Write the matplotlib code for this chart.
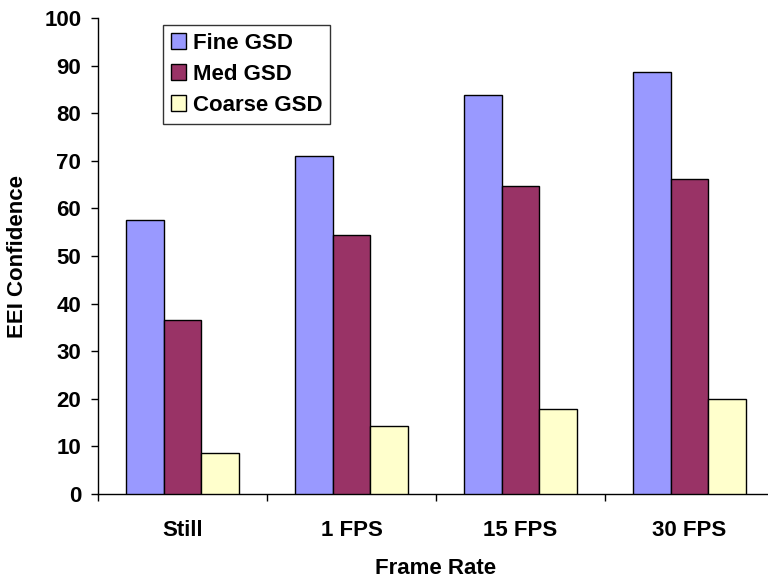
import matplotlib
matplotlib.use("Agg")
import matplotlib.pyplot as plt
from matplotlib.patches import Patch
import numpy as np

categories = ["Still", "1 FPS", "15 FPS", "30 FPS"]
series_names = ["Fine GSD", "Med GSD", "Coarse GSD"]
fine_gsd = [57.6, 71.1, 83.9, 88.6]
med_gsd = [36.6, 54.5, 64.7, 66.2]
coarse_gsd = [8.7, 14.2, 17.9, 20.0]
colors = ["#9999FF", "#993366", "#FFFFCC"]
y_ticks = [0, 10, 20, 30, 40, 50, 60, 70, 80, 90, 100]

plt.rcParams["font.family"] = ["Liberation Sans", "DejaVu Sans"]
plt.rcParams["font.weight"] = "bold"
FS = 16

fig = plt.figure(figsize=(7.68, 5.78), dpi=100)
ax = fig.add_axes([98 / 768, 1 - 494 / 578, 676 / 768, 476 / 578])

centers = np.arange(len(categories)) + 0.5
bw = 0.222
for i, (vals, c) in enumerate(zip([fine_gsd, med_gsd, coarse_gsd], colors)):
    ax.bar(centers + (i - 1) * bw, vals, width=bw, color=c,
           edgecolor="black", linewidth=1.0, zorder=3)

ax.set_xlim(0, len(categories))
ax.set_ylim(0, 100)
ax.set_yticks(y_ticks)
ax.set_yticklabels([str(v) for v in y_ticks], fontsize=FS, fontweight="bold")
ax.set_xticks(np.arange(len(categories) + 1))
ax.set_xticklabels([])
ax.set_xticks(centers, minor=True)
ax.set_xticklabels(categories, minor=True, fontsize=FS, fontweight="bold")
ax.tick_params(axis="x", which="minor", length=0, pad=19)
ax.tick_params(axis="x", which="major", length=5, width=1, color="black", direction="out")
ax.tick_params(axis="y", length=5, width=1, color="black", direction="out", pad=7)

for s in ["top", "right"]:
    ax.spines[s].set_visible(False)
for s in ["left", "bottom"]:
    ax.spines[s].set_color("black")
    ax.spines[s].set_linewidth(1.0)

ax.set_xlabel("Frame Rate", fontsize=FS, fontweight="bold", labelpad=12)
ax.set_ylabel("EEI Confidence", fontsize=FS, fontweight="bold", labelpad=12)

handles = [Patch(facecolor=c, edgecolor="black", linewidth=1.0) for c in colors]
leg = ax.legend(handles, series_names, loc="upper left",
                bbox_to_anchor=((163 - 98) / 676, (494 - 25) / 476),
                frameon=True, fancybox=False, edgecolor="black",
                prop={"size": FS, "weight": "bold"},
                handlelength=0.7, handleheight=0.7, handletextpad=0.3,
                labelspacing=0.45, borderpad=0.35, borderaxespad=0)
leg.get_frame().set_linewidth(1.0)

fig.savefig("out.png", dpi=100)
